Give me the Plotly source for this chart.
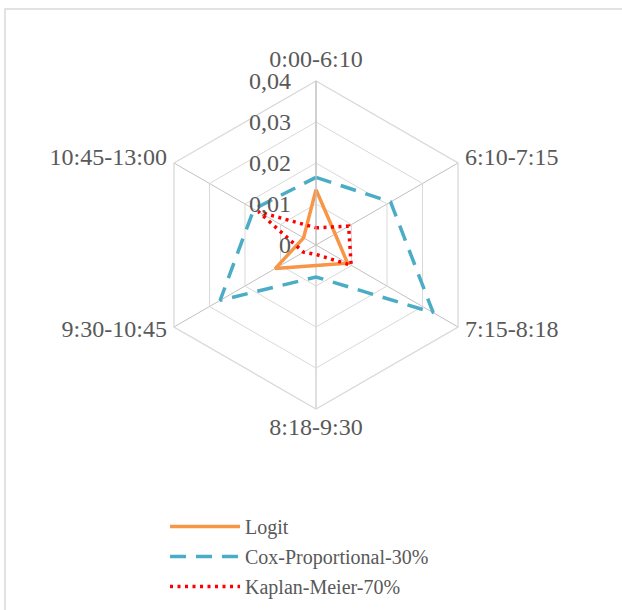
import plotly.graph_objects as go

categories = ["0:00-6:10", "6:10-7:15", "7:15-8:18", "8:18-9:30", "9:30-10:45", "10:45-13:00"]
logit = [0.0135, 0.0054, 0.0089, 0.0050, 0.0115, 0.0035]
cox = [0.0165, 0.0210, 0.0330, 0.0078, 0.0270, 0.0175]
kaplan = [0.0042, 0.0092, 0.0099, 0.0023, 0.0035, 0.0162]
tick_vals = [0, 0.01, 0.02, 0.03, 0.04]
tick_text = ["0", "0,01", "0,02", "0,03", "0,04"]
label_positions = ["top center", "middle right", "middle right", "bottom center", "middle left", "middle left"]

FONT = "Liberation Serif"
TXT = "#595959"
RMAX = 0.04
OUTER = 1.1          # label layer extends 10% beyond the data range
LABEL_R = RMAX * 1.05


def closed(v):
    return v + v[:1]


fig = go.Figure()
fig.add_trace(go.Scatterpolar(r=closed(logit), theta=closed(categories), mode="lines",
                              name="Logit", legendgroup="a",
                              line=dict(color="#F79646", width=3.5)))
fig.add_trace(go.Scatterpolar(r=closed(cox), theta=closed(categories), mode="lines",
                              name="Cox-Proportional-30%", legendgroup="b",
                              line=dict(color="#4BACC6", width=3.5, dash="16px,10px")))
fig.add_trace(go.Scatterpolar(r=closed(kaplan), theta=closed(categories), mode="lines",
                              name="Kaplan-Meier-70%", legendgroup="c",
                              line=dict(color="#FF0000", width=3.5, dash="3px,4.5px")))
# category labels, placed through a transparent second polar with the same scale
fig.add_trace(go.Scatterpolar(r=[LABEL_R] * len(categories), theta=categories, mode="text",
                              text=categories, textposition=label_positions,
                              textfont=dict(family=FONT, size=24, color=TXT),
                              cliponaxis=False, showlegend=False, hoverinfo="skip",
                              subplot="polar2"))

W, H = 622, 610
cx, cy, R = 316, 245, 164
R2 = R * OUTER


def dom(r):
    return dict(x=[(cx - r) / W, (cx + r) / W], y=[(H - cy - r) / H, (H - cy + r) / H])


fig.update_layout(
    width=W, height=H,
    margin=dict(l=0, r=0, t=0, b=0),
    paper_bgcolor="white",
    font=dict(family=FONT, size=20, color=TXT),
    polar=dict(
        domain=dom(R),
        gridshape="linear",
        bgcolor="white",
        angularaxis=dict(rotation=90, direction="clockwise", ticks="", showticklabels=False,
                         gridcolor="#c0c0c0", linecolor="#d9d9d9", showline=True, linewidth=1.3),
        radialaxis=dict(range=[0, RMAX], angle=90, tickangle=90, tickvals=tick_vals, ticktext=tick_text,
                        ticks="outside", ticklen=16, tickcolor="rgba(0,0,0,0)",
                        showline=True, linecolor="#c0c0c0", gridcolor="#d9d9d9",
                        side="counterclockwise",
                        tickfont=dict(family=FONT, size=24, color=TXT)),
    ),
    polar2=dict(
        domain=dom(R2),
        bgcolor="rgba(0,0,0,0)",
        angularaxis=dict(rotation=90, direction="clockwise", visible=False,
                         categoryarray=categories, categoryorder="array"),
        radialaxis=dict(range=[0, RMAX * OUTER], visible=False),
    ),
    legend=dict(x=165 / W, y=(H - 507) / H, xanchor="left", yanchor="top",
                font=dict(family=FONT, size=20, color=TXT), itemwidth=70, tracegroupgap=1),
    showlegend=True,
    shapes=[dict(type="rect", xref="paper", yref="paper", x0=5 / W, x1=1.02, y0=-0.02, y1=1 - 9 / H,
                 line=dict(color="#d9d9d9", width=1.5))],
)

fig.write_html("out.html", config={"displayModeBar": False},
               post_script="document.body.style.margin='0';")
